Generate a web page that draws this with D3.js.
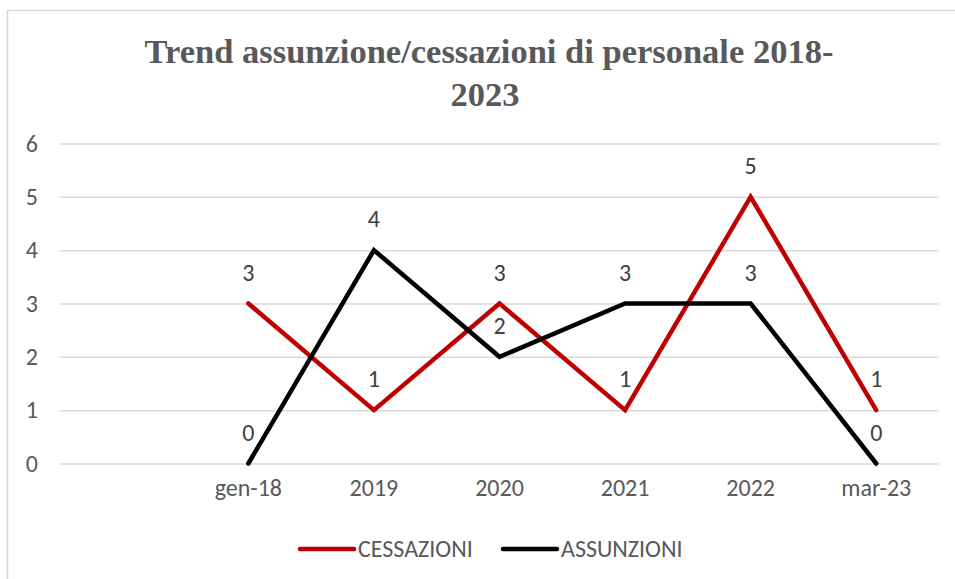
<!DOCTYPE html>
<html>
<head>
<meta charset="utf-8">
<script src="https://cdn.jsdelivr.net/npm/d3@7"></script>
<style>
  body { margin: 0; background: #fff; }
  svg { display: block; }
</style>
</head>
<body>
<div class="graphContainer"></div>
<script>
var categories = ["", "gen-18", "2019", "2020", "2021", "2022", "mar-23"];
var cessazioni = [null, 3, 1, 3, 1, 5, 1];
var assunzioni = [null, 0, 4, 2, 3, 3, 0];
var yTicks = [0, 1, 2, 3, 4, 5, 6];
var seriesNames = ["CESSAZIONI", "ASSUNZIONI"];
var seriesColors = ["#C00000", "#000000"];

var w = 955, h = 579;
var plotLeft = 60, plotRight = 939, plotTop = 143.5, plotBottom = 463.5;
var labelFont = "Carlito, Calibri, 'Open Sans', 'Liberation Sans', sans-serif";

var svg = d3.select(".graphContainer")
    .append("svg")
    .attr("width", w)
    .attr("height", h);

// chart border
svg.append("rect")
    .attr("x", 7.5).attr("y", 10.5)
    .attr("width", 960).attr("height", 600)
    .attr("fill", "#fff")
    .attr("stroke", "#d9d9d9")
    .attr("stroke-width", 1.5);

var title = svg.append("text")
    .attr("text-anchor", "middle")
    .attr("font-family", "'Liberation Serif', 'Times New Roman', serif")
    .attr("font-weight", "bold")
    .attr("font-size", 34.5)
    .attr("fill", "#595959");
title.append("tspan").attr("x", 489).attr("y", 63).text("Trend assunzione/cessazioni di personale 2018-");
title.append("tspan").attr("x", 485).attr("y", 106).text("2023");

var x = d3.scaleBand()
    .domain(d3.range(categories.length))
    .range([plotLeft, plotRight]);

var y = d3.scaleLinear()
    .domain([0, 6])
    .range([plotBottom, plotTop]);

var yAxis = d3.axisLeft(y)
    .tickValues(yTicks)
    .tickFormat(d3.format("d"))
    .tickSize(-(plotRight - plotLeft))
    .tickPadding(22);

var gy = svg.append("g")
    .attr("transform", "translate(" + plotLeft + ",0)")
    .call(yAxis);
gy.select(".domain").remove();
gy.selectAll(".tick line").attr("stroke", "#d9d9d9").attr("stroke-width", 1.5);
gy.selectAll(".tick text")
    .attr("fill", "#595959")
    .attr("font-family", labelFont)
    .attr("font-size", 24);

var xAxis = d3.axisBottom(x)
    .tickSize(0)
    .tickPadding(15)
    .tickFormat(function (i) { return categories[i]; });

var gx = svg.append("g")
    .attr("transform", "translate(0," + plotBottom + ")")
    .call(xAxis);
gx.select(".domain").remove();
gx.selectAll(".tick text")
    .attr("fill", "#595959")
    .attr("font-family", labelFont)
    .attr("font-size", 24);

var cx = function (i) { return x(i) + x.bandwidth() / 2; };

var line = d3.line()
    .defined(function (d) { return d != null; })
    .x(function (d, i) { return cx(i); })
    .y(function (d) { return y(d); });

[cessazioni, assunzioni].forEach(function (data, s) {
    svg.append("path")
        .datum(data)
        .attr("fill", "none")
        .attr("stroke", seriesColors[s])
        .attr("stroke-width", 4.5)
        .attr("stroke-linejoin", "miter")
        .attr("stroke-linecap", "round")
        .attr("d", line);
});

[cessazioni, assunzioni].forEach(function (data) {
    svg.append("g").selectAll("text")
        .data(data.map(function (d, i) { return { v: d, i: i }; }).filter(function (d) { return d.v != null; }))
        .enter()
        .append("text")
        .attr("x", function (d) { return cx(d.i); })
        .attr("y", function (d) { return y(d.v) - 23; })
        .attr("text-anchor", "middle")
        .attr("fill", "#404040")
        .attr("font-family", labelFont)
        .attr("font-size", 24)
        .text(function (d) { return d.v; });
});

// legend
var legendX = [300, 503];
seriesNames.forEach(function (name, s) {
    svg.append("line")
        .attr("x1", legendX[s]).attr("x2", legendX[s] + 54)
        .attr("y1", 549).attr("y2", 549)
        .attr("stroke", seriesColors[s])
        .attr("stroke-width", 4.5)
        .attr("stroke-linecap", "round");
    svg.append("text")
        .attr("x", legendX[s] + 58)
        .attr("y", 557)
        .attr("fill", "#595959")
        .attr("font-family", labelFont)
        .attr("font-size", 24)
        .text(name);
});
</script>
</body>
</html>
